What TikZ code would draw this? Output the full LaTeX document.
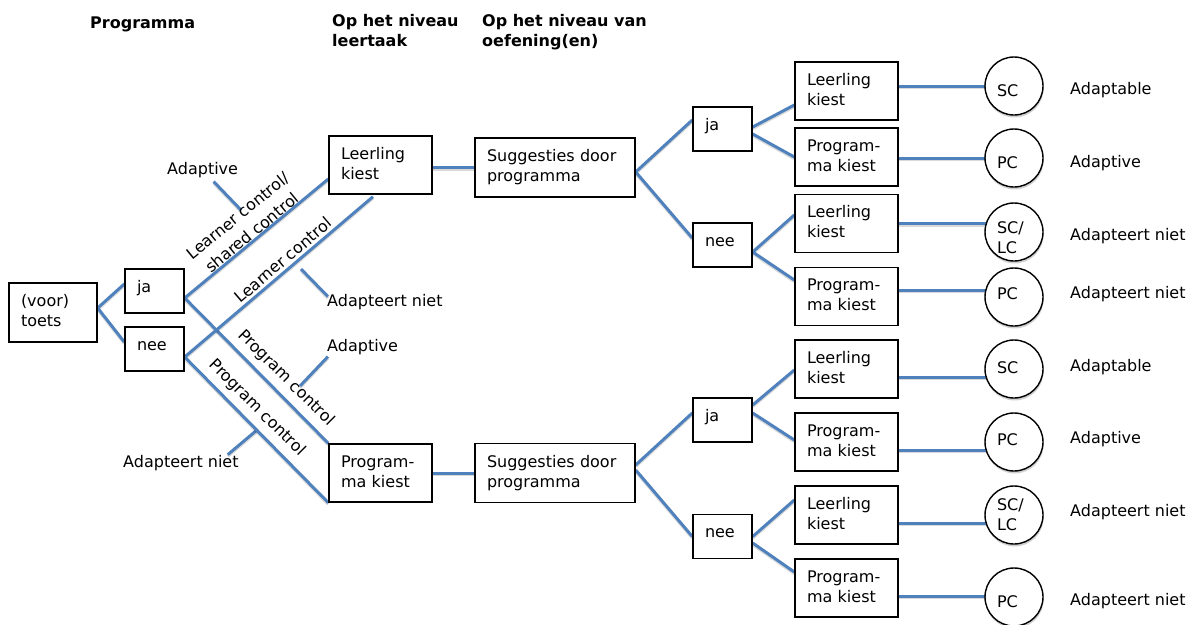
\documentclass[tikz,border=0pt]{standalone}
\usepackage{fontspec}
\setmainfont{DejaVu Sans}
\usetikzlibrary{backgrounds,shadows}
\definecolor{linkblue}{RGB}{79,129,189}

\begin{document}
\begin{tikzpicture}[x=1pt,y=-1pt,
  every node/.style={font=\fontsize{16}{20}\selectfont},
  box/.style={draw, line width=1.4pt, fill=white, inner xsep=12pt, inner ysep=0pt,
    align=left, execute at begin node=\strut, execute at end node=\strut},
  smallbox/.style={box, text width=35pt, minimum width=59pt, minimum height=44pt,
    text height=12pt, text depth=10pt},
  midbox/.style={box, text width=79pt, minimum width=103pt, minimum height=58pt},
  sugbox/.style={box, text width=136pt, minimum width=160pt, minimum height=59pt},
  testbox/.style={box, text width=64pt, minimum width=88pt, minimum height=59pt},
  circ/.style={circle, draw, line width=1.4pt, fill=white, minimum size=58pt, inner sep=0pt,
    drop shadow={shadow xshift=0.6pt, shadow yshift=-2.5pt, opacity=0.3, fill=black!60}},
  ctext/.style={text width=34pt, align=left, inner sep=0pt,
    execute at begin node=\strut, execute at end node=\strut},
  hdr/.style={font=\fontsize{16}{20}\selectfont\bfseries, inner sep=0pt, align=left},
  note/.style={inner sep=0pt},
  lbl/.style={inner sep=0pt, align=center, font=\fontsize{16}{22}\selectfont},
  link/.style={draw=linkblue, line width=3pt,
    preaction={draw=black, draw opacity=0.15, line width=3pt, transform canvas={yshift=-1.6pt}}}
]
\useasboundingbox (0,0) rectangle (1194,624);

% column headings
\node[hdr, anchor=base west] (h1) at (90,28) {Programma};
\node[hdr, anchor=north west, execute at begin node=\strut] (h2) at (332,14) {Op het niveau\\leertaak};
\node[hdr, anchor=north west, execute at begin node=\strut] (h3) at (482,14) {Op het niveau van\\oefening(en)};

% pre-test and its outcomes
\node[testbox] (toets) at (53,312.5) {(voor)\\toets};
\node[smallbox] (ja1) at (154.5,291) {ja};
\node[smallbox] (nee1) at (154.5,349) {nee};

% task level
\node[midbox] (lk) at (380.5,165) {Leerling\\kiest};
\node[midbox] (pk) at (380.5,473) {Program-\\ma kiest};

% exercise level
\node[sugbox] (sug1) at (555,167.5) {Suggesties door\\programma};
\node[sugbox] (sug2) at (555,473) {Suggesties door\\programma};

\node[smallbox] (ja2) at (722.5,129) {ja};
\node[smallbox] (nee2) at (722.5,245) {nee};
\node[smallbox] (ja3) at (722.5,420) {ja};
\node[smallbox] (nee3) at (722.5,536.5) {nee};

\node[midbox] (a1) at (846.5,91) {Leerling\\kiest};
\node[midbox] (a2) at (846.5,157) {Program-\\ma kiest};
\node[midbox] (a3) at (846.5,223.5) {Leerling\\kiest};
\node[midbox] (a4) at (846.5,296.5) {Program-\\ma kiest};
\node[midbox] (b1) at (846.5,369) {Leerling\\kiest};
\node[midbox] (b2) at (846.5,442) {Program-\\ma kiest};
\node[midbox] (b3) at (846.5,515) {Leerling\\kiest};
\node[midbox] (b4) at (846.5,588) {Program-\\ma kiest};

% control types
\node[circ, label={[ctext, yshift=-6pt]center:SC}] (c1) at (1014,86) {};
\node[circ, label={[ctext, yshift=-6pt]center:PC}] (c2) at (1014,158) {};
\node[circ, label={[ctext, yshift=-7pt]center:{SC/\\LC}}] (c3) at (1014,232) {};
\node[circ, label={[ctext, yshift=2pt]center:PC}] (c4) at (1014,297) {};
\node[circ, label={[ctext, yshift=0pt]center:SC}] (d1) at (1014,369) {};
\node[circ, label={[ctext, yshift=1pt]center:PC}] (d2) at (1014,442) {};
\node[circ, label={[ctext, yshift=-1pt]center:{SC/\\LC}}] (d3) at (1014,515) {};
\node[circ, label={[ctext, yshift=-6pt]center:PC}] (d4) at (1014,597) {};

% outcome labels
\node[note, anchor=base west] (r1) at (1070,94.5) {Adaptable};
\node[note, anchor=base west] (r2) at (1070,167.5) {Adaptive};
\node[note, anchor=base west] (r3) at (1070,240.5) {Adapteert niet};
\node[note, anchor=base west] (r4) at (1070,298) {Adapteert niet};
\node[note, anchor=base west] (r5) at (1070,371.5) {Adaptable};
\node[note, anchor=base west] (r6) at (1070,443) {Adaptive};
\node[note, anchor=base west] (r7) at (1070,516.5) {Adapteert niet};
\node[note, anchor=base west] (r8) at (1070,605) {Adapteert niet};

% labels along the first branches
\node[lbl, rotate=39.4] (lc1) at (245,224) {Learner control/\\shared control};
\node[lbl, rotate=40.4] (lc2) at (283,260) {Learner control};
\node[lbl, rotate=-44.8] (pc1) at (286,378) {Program control};
\node[lbl, rotate=-45] (pc2) at (257,408) {Program control};

% side notes with pointer lines
\node[note, anchor=base west] (ad1) at (167,174) {Adaptive};
\node[note, anchor=base west] (an1) at (327,306) {Adapteert niet};
\node[note, anchor=base west] (ad2) at (327,351) {Adaptive};
\node[note, anchor=base west] (an2) at (123,467) {Adapteert niet};
\coordinate (p1) at (241,210);
\coordinate (p2) at (301,269);
\coordinate (p3) at (300,386);
\coordinate (p4) at (257,430);

\begin{scope}[on background layer]
  % pointer lines
  \draw[link] ([shift={(11,4)}]ad1.south) -- (p1);
  \draw[link] (p2) -- ([shift={(1,3)}]an1.north west);
  \draw[link] ([shift={(1,2)}]ad2.south west) -- (p3);
  \draw[link] ([shift={(-11,0)}]an2.north east) -- (p4);

  % first level
  \draw[link] ([yshift=4.5pt]toets.east) -- ([yshift=7pt]ja1.west);
  \draw[link] ([yshift=4.5pt]toets.east) -- ([yshift=7pt]nee1.west);
  \draw[link] ([yshift=-7pt]ja1.east) -- ([yshift=-14pt]lk.west);
  \draw[link] ([yshift=-7pt]ja1.east) -- (pk.north west);
  \draw[link] ([yshift=-8pt]nee1.east) -- ([xshift=-7.5pt, yshift=-2pt]lk.south);
  \draw[link] ([yshift=-8pt]nee1.east) -- (pk.south west);

  % task level to exercise level
  \draw[link] (lk.east |- sug1.west) -- (sug1.west);
  \draw[link] (pk.east) -- (sug2.west);

  \draw[link] ([yshift=-4.5pt]sug1.east) -- ([yshift=9pt]ja2.west);
  \draw[link] ([yshift=-4.5pt]sug1.east) -- ([yshift=7pt]nee2.west);
  \draw[link] ([yshift=8pt]sug2.east) -- ([yshift=7pt]ja3.west);
  \draw[link] ([yshift=3pt]sug2.east) -- (nee3.west);

  \draw[link] ([yshift=2pt]ja2.east) -- ([yshift=-14pt]a1.west);
  \draw[link] ([yshift=-5pt]ja2.east) -- (a2.west);
  \draw[link] ([yshift=-7pt]nee2.east) -- ([yshift=8.5pt]a3.west);
  \draw[link] ([yshift=-7pt]nee2.east) -- ([yshift=16.5pt]a4.west);
  \draw[link] ([yshift=15pt]ja3.east) -- ([yshift=-1pt]b1.west);
  \draw[link] ([yshift=7pt]ja3.east) -- ([yshift=2pt]b2.west);
  \draw[link] (nee3.east) -- ([yshift=15pt]b3.west);
  \draw[link] ([yshift=-6.5pt]nee3.east) -- ([yshift=16pt]b4.west);

  % choices to control types
  \draw[link] ([yshift=5pt]a1.east) -- ([yshift=5pt]a1.east -| c1.center);
  \draw[link] ([yshift=-1pt]a2.east) -- ([yshift=-1pt]a2.east -| c2.center);
  \draw[link] (a3.east) -- (a3.east -| c3.center);
  \draw[link] ([yshift=6.5pt]a4.east) -- ([yshift=6.5pt]a4.east -| c4.center);
  \draw[link] ([yshift=-8pt]b1.east) -- ([yshift=-8pt]b1.east -| d1.center);
  \draw[link] ([yshift=-8pt]b2.east) -- ([yshift=-8pt]b2.east -| d2.center);
  \draw[link] ([yshift=-8pt]b3.east) -- ([yshift=-8pt]b3.east -| d3.center);
  \draw[link] ([yshift=-8pt]b4.east) -- ([yshift=-8pt]b4.east -| d4.center);
\end{scope}
\end{tikzpicture}
\end{document}
